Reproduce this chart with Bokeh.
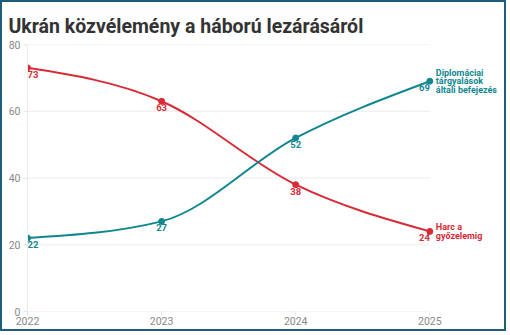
import numpy as np
from bokeh.plotting import figure
from bokeh.models import ColumnDataSource, Range1d, FixedTicker
from bokeh.core.properties import value
from bokeh.embed import file_html
from bokeh.resources import INLINE

title_text = "Ukrán közvélemény a háború lezárásáról"
years = [2022, 2023, 2024, 2025]
fight = [73, 63, 38, 24]
diplo = [22, 27, 52, 69]
fight_name = "Harc a\ngyőzelemig"
diplo_name = "Diplomáciai\ntárgyalások\náltali befejezés"
y_ticks = [0, 20, 40, 60, 80]

RED = "#d92b36"
TEAL = "#10878f"
GRID = "#ececec"
FONT = "Roboto"

# frame: data area 404 px wide for the years, plus room on the right for the names
PLOT_W = 404
EXTRA_W = 79


def monotone_bezier(xs, ys):
    """Bezier segments of a monotone-X cubic curve through the given points."""
    x = np.asarray(xs, float)
    y = np.asarray(ys, float)
    n = len(x)
    h = np.diff(x)
    s = np.diff(y) / h
    t = np.zeros(n)
    for i in range(1, n - 1):
        h0, h1 = h[i - 1], h[i]
        s0, s1 = s[i - 1], s[i]
        p = (s0 * h1 + s1 * h0) / (h0 + h1)
        t[i] = (np.sign(s0) + np.sign(s1)) * min(abs(s0), abs(s1), 0.5 * abs(p))
    t[0] = (3 * s[0] - t[1]) / 2
    t[-1] = (3 * s[-1] - t[-2]) / 2
    d = h / 3
    return dict(
        x0=x[:-1], y0=y[:-1], x1=x[1:], y1=y[1:],
        cx0=x[:-1] + d, cy0=y[:-1] + d * t[:-1],
        cx1=x[1:] - d, cy1=y[1:] - d * t[1:],
    )


span = years[-1] - years[0]
x_end = years[-1] + span * EXTRA_W / PLOT_W

p = figure(
    width=506, height=331,
    x_range=Range1d(years[0], x_end),
    y_range=Range1d(y_ticks[0], y_ticks[-1]),
    output_backend="svg", toolbar_location=None,
    min_border_left=25, min_border_right=0,
    min_border_top=42, min_border_bottom=22,
    title=title_text,
)
p.styles = {"border": "2px solid #1b5d7a"}
p.outline_line_color = None
p.background_fill_color = "white"
p.border_fill_color = "white"

p.title.text_font = FONT
p.title.text_font_size = "19.5px"
p.title.text_font_style = "bold"
p.title.text_color = "#333333"
p.title.align = "left"
p.title.offset = -19
p.title.standoff = 14

# axes
p.xaxis.ticker = FixedTicker(ticks=years)
p.yaxis.ticker = FixedTicker(ticks=y_ticks)
for ax in (p.xaxis, p.yaxis):
    ax.major_label_text_font = FONT
    ax.major_label_text_font_size = "10.5px"
    ax.major_label_text_color = "#888888"
    ax.minor_tick_line_color = None
    ax.major_tick_in = 0
    ax.major_tick_line_color = "#e6e6e6"
p.xaxis.axis_line_color = None
p.yaxis.axis_line_color = GRID
p.xaxis.major_tick_out = 4
p.xaxis.major_label_standoff = 1
p.yaxis.major_tick_out = 4
p.yaxis.major_label_standoff = 3

p.xgrid.grid_line_color = None
p.ygrid.grid_line_color = None

# horizontal gridlines limited to the year span
p.segment(x0=[years[0]] * len(y_ticks), x1=[years[-1]] * len(y_ticks),
          y0=y_ticks, y1=y_ticks, line_color=GRID, line_width=1)

# curves
for vals, col in ((fight, RED), (diplo, TEAL)):
    src = ColumnDataSource(monotone_bezier(years, vals))
    p.bezier(x0="x0", y0="y0", x1="x1", y1="y1", cx0="cx0", cy0="cy0",
             cx1="cx1", cy1="cy1", source=src, line_color=col, line_width=2)
    p.scatter(years, vals, size=6, color=col)
    aligns = ["left"] + ["center"] * (len(years) - 2) + ["right"]
    lsrc = ColumnDataSource(dict(x=years, y=vals, t=[str(v) for v in vals], a=aligns))
    p.text(x="x", y="y", text="t", source=lsrc, text_align="a",
           text_baseline="top", y_offset=3, text_color=col,
           text_font=value(FONT), text_font_size="9.5px", text_font_style="bold")

for name, vals, col in ((diplo_name, diplo, TEAL), (fight_name, fight, RED)):
    p.text(x=[years[-1]], y=[vals[-1]], text=[name], x_offset=6,
           text_align="left", text_baseline="middle",
           text_color=col, text_font=value(FONT), text_font_size="9px",
           text_font_style="bold", text_line_height=0.85)

open("out.html", "w").write(file_html(p, INLINE))
